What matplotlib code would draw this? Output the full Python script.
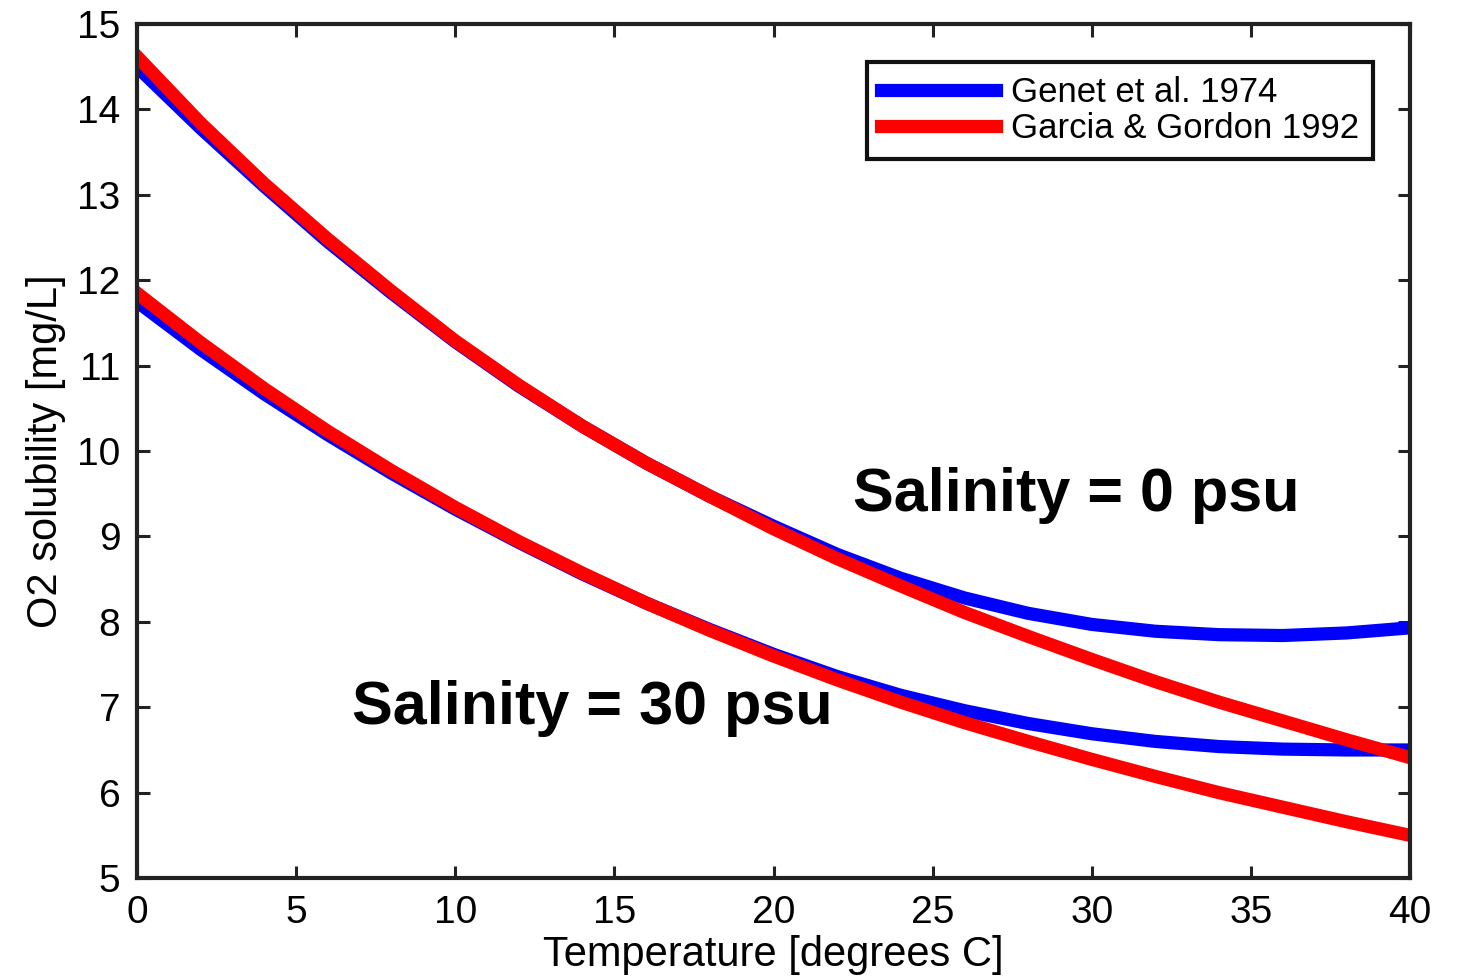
import matplotlib.pyplot as plt

plt.rcParams["font.family"] = ["Liberation Sans", "DejaVu Sans"]

temp = [0, 2, 4, 6, 8, 10, 12, 14, 16, 18, 20, 22, 24, 26, 28, 30, 32, 34, 36, 38, 40]

# O2 solubility [mg/L]
genet_s0 = [14.50, 13.78, 13.10, 12.45, 11.85, 11.28, 10.76, 10.29, 9.86, 9.47, 9.12,
            8.79, 8.51, 8.28, 8.10, 7.97, 7.89, 7.85, 7.84, 7.87, 7.93]
garcia_s0 = [14.62, 13.84, 13.13, 12.48, 11.87, 11.29, 10.77, 10.29, 9.86, 9.47, 9.09,
             8.74, 8.42, 8.11, 7.83, 7.56, 7.30, 7.06, 6.84, 6.62, 6.41]
genet_s30 = [11.75, 11.19, 10.67, 10.19, 9.74, 9.32, 8.93, 8.56, 8.22, 7.91, 7.62,
             7.36, 7.14, 6.96, 6.81, 6.69, 6.60, 6.54, 6.51, 6.50, 6.50]
garcia_s30 = [11.85, 11.27, 10.73, 10.23, 9.77, 9.34, 8.94, 8.57, 8.22, 7.90, 7.60,
              7.32, 7.06, 6.82, 6.60, 6.39, 6.19, 6.00, 5.83, 5.66, 5.50]

fig = plt.figure(figsize=(14.6, 9.8), dpi=100)
ax = fig.add_axes([0.0938, 0.104, 0.872, 0.8715])

lw = 9.5
ax.plot(temp, genet_s0, color="blue", lw=lw, label="Genet et al. 1974")
ax.plot(temp, genet_s30, color="blue", lw=lw)
ax.plot(temp, garcia_s0, color="red", lw=lw, label="Garcia & Gordon 1992")
ax.plot(temp, garcia_s30, color="red", lw=lw)

ax.set_xlim(0, 40)
ax.set_ylim(5, 15)
ax.set_xticks(range(0, 41, 5))
ax.set_yticks(range(5, 16))

ax.tick_params(direction="in", length=9, width=2.2, labelsize=28, top=True, right=True,
               color="#222222", pad=12)
for s in ax.spines.values():
    s.set_linewidth(3)
    s.set_color("#222222")

ax.set_xlabel("Temperature [degrees C]", fontsize=30, labelpad=3)
ax.set_ylabel("O2 solubility [mg/L]", fontsize=30, labelpad=8)

ax.text(22.5, 9.48, "Salinity = 0 psu", fontsize=44, fontweight="bold", va="center")
ax.text(6.75, 6.99, "Salinity = 30 psu", fontsize=44, fontweight="bold", va="center")

leg = ax.legend(loc="upper right", bbox_to_anchor=(0.971, 0.9555), borderaxespad=0,
                fontsize=25, fancybox=False, framealpha=1, handlelength=3.3,
                handletextpad=0.45, borderpad=0.4, labelspacing=0.08)
leg.get_frame().set_edgecolor("#111111")
leg.get_frame().set_linewidth(3)

fig.savefig("out.png", dpi=100)
